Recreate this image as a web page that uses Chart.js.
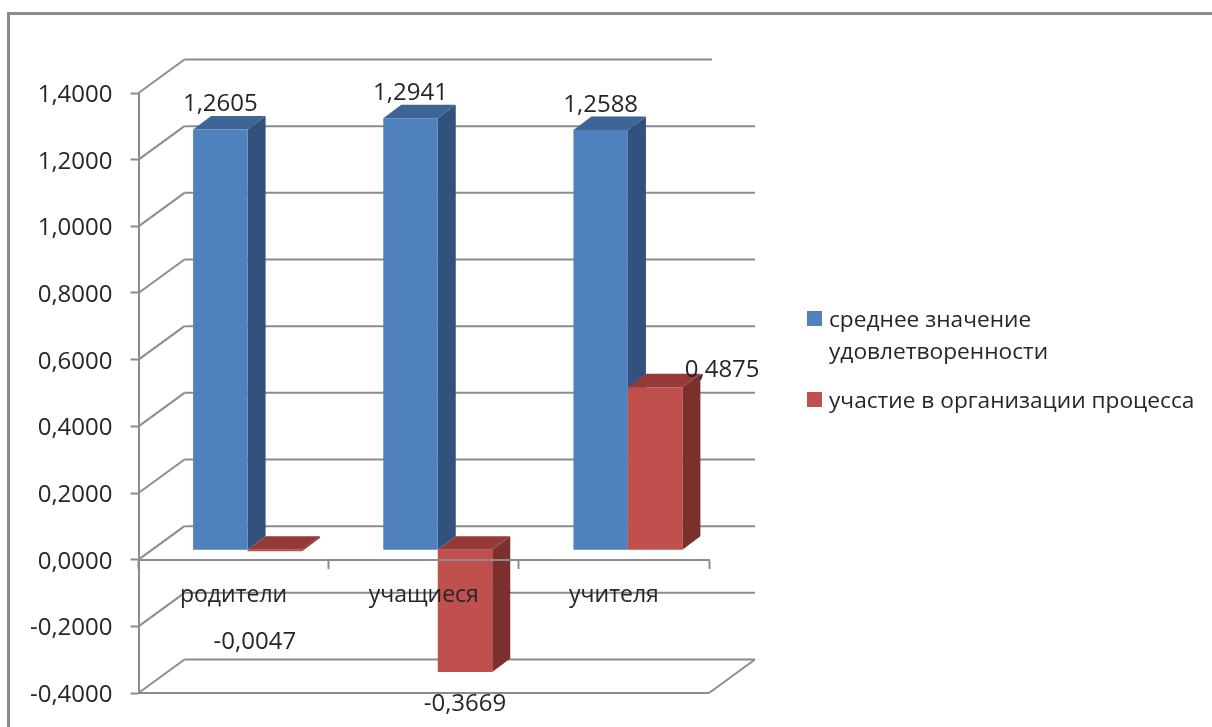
<!DOCTYPE html>
<html lang="ru">
<head>
<meta charset="utf-8">
<title>Удовлетворенность</title>
<script src="https://cdn.jsdelivr.net/npm/chart.js@4"></script>
<style>
  html, body { margin: 0; padding: 0; background: #fff; overflow: hidden; width: 1212px; height: 727px; }
  #frame { position: absolute; left: 7px; top: 12px; width: 1300px; height: 800px; border: 3px solid #8c8c8c; box-sizing: border-box; }
  canvas { position: absolute; left: 0; top: 0; }
  #legend { position: absolute; left: 807px; top: 0; font: 22.7px "Open Sans", sans-serif; color: #262626; }
  .item { position: absolute; left: 0; white-space: nowrap; line-height: 32px; padding-left: 22px; }
  .item i { position: absolute; left: 0; top: 8px; width: 14.5px; height: 14.5px; }
</style>
</head>
<body>
<div id="frame"></div>
<canvas id="chart" width="1212" height="727"></canvas>
<div id="legend"></div>
<script>
// ── Данные ────────────────────────────────────────────────────────────────────
const categories = ['родители', 'учащиеся', 'учителя'];
const satisfaction = [1.2605, 1.2941, 1.2588];
const participation = [-0.0047, -0.3669, 0.4875];
const seriesNames = [['среднее значение', 'удовлетворенности'], ['участие в организации процесса']];

const fmt = v => (Math.abs(v) < 1e-9 ? 0 : v).toFixed(4).replace('.', ',');
const FONT = '"Open Sans", sans-serif';
const TEXT = '#262626';
const GRID = '#8c8c8c';

// глубина "3D": стены и столбики
const WALL = { dx: 46, dy: -33.5 };
const BAR_SHIFT = { dx: 14, dy: -10 };
const BAR_DEPTH = { dx: 18, dy: -13.5 };
const FACES = [
  { side: '#31527c', cap: '#3d6595' },
  { side: '#7b302e', cap: '#953a38' },
];
// ручные сдвиги подписей, как на исходной диаграмме: [серия][категория]
const LABEL_POS = [
  [{ dx: 0, dy: -25 }, { dx: 0, dy: -25 }, { dx: 0, dy: -25 }],
  [{ dx: -20, dy: 91 }, { dx: 0, dy: 32 }, { dx: 67, dy: -17 }],
];

function poly(ctx, pts, color) {
  ctx.fillStyle = color;
  ctx.beginPath();
  pts.forEach((p, i) => (i ? ctx.lineTo(p[0], p[1]) : ctx.moveTo(p[0], p[1])));
  ctx.closePath();
  ctx.fill();
}

function line(ctx, x1, y1, x2, y2) {
  ctx.beginPath();
  ctx.moveTo(x1, y1);
  ctx.lineTo(x2, y2);
  ctx.stroke();
}

const box3d = {
  id: 'box3d',
  // задняя стена и диагонали по делениям оси
  beforeDatasetsDraw(chart) {
    const { ctx, chartArea: a, scales: { y } } = chart;
    ctx.save();
    ctx.strokeStyle = GRID;
    ctx.lineWidth = 2;
    y.ticks.forEach(t => {
      const py = y.getPixelForValue(t.value);
      const right = t.value === y.max ? a.right + 3 : a.right + WALL.dx;
      line(ctx, a.left, py, a.left + WALL.dx, py + WALL.dy);
      line(ctx, a.left + WALL.dx, py + WALL.dy, right, py + WALL.dy);
    });
    const bottom = y.getPixelForValue(y.min);
    line(ctx, a.left, bottom, a.right, bottom);
    line(ctx, a.right, bottom, a.right + WALL.dx, bottom + WALL.dy);

    // столбики: сначала по категориям, синий под красным
    ctx.translate(BAR_SHIFT.dx, BAR_SHIFT.dy);
    categories.forEach((c, i) => {
      [0, 1].forEach(s => {
        const bar = chart.getDatasetMeta(s).data[i];
        const top = Math.min(bar.y, bar.base);
        const bot = Math.max(bar.y, bar.base);
        const l = bar.x - bar.width / 2;
        const r = bar.x + bar.width / 2;
        const { dx, dy } = BAR_DEPTH;
        poly(ctx, [[r, top], [r + dx, top + dy], [r + dx, bot + dy], [r, bot]], FACES[s].side);
        poly(ctx, [[l, top], [r, top], [r + dx, top + dy], [l + dx, top + dy]], FACES[s].cap);
        bar.draw(ctx);
      });
    });
    ctx.restore();
    return false;
  },
  // beforeDatasetsDraw вернул false, поэтому подписи рисуем здесь
  afterDraw(chart) {
    const { ctx } = chart;
    ctx.save();
    ctx.font = '24px ' + FONT;
    ctx.fillStyle = TEXT;
    ctx.textAlign = 'center';
    ctx.textBaseline = 'middle';
    [satisfaction, participation].forEach((values, s) => {
      chart.getDatasetMeta(s).data.forEach((bar, i) => {
        const p = LABEL_POS[s][i];
        const edge = values[i] < 0 ? Math.max(bar.y, bar.base) : Math.min(bar.y, bar.base);
        ctx.fillText(fmt(values[i]), bar.x + BAR_SHIFT.dx + p.dx, edge + BAR_SHIFT.dy + p.dy);
      });
    });
    ctx.restore();
  },
};

// ── График ────────────────────────────────────────────────────────────────────
const chart = new Chart(document.getElementById('chart'), {
  type: 'bar',
  data: {
    labels: categories,
    datasets: [
      { label: seriesNames[0].join(' '), data: satisfaction, backgroundColor: '#4f81bd' },
      { label: seriesNames[1].join(' '), data: participation, backgroundColor: '#c0504d' },
    ],
  },
  options: {
    responsive: false,
    animation: false,
    layout: { padding: { left: 0, top: 93, right: 503, bottom: 34 } },
    datasets: { bar: { barPercentage: 1, categoryPercentage: 0.573 } },
    plugins: { legend: { display: false }, tooltip: { enabled: false } },
    scales: {
      x: {
        position: { y: 0 },
        grid: { drawOnChartArea: false, tickLength: 8, tickColor: GRID, tickWidth: 2 },
        border: { color: GRID, width: 2, z: 1 },
        ticks: { z: 1, color: TEXT, font: { family: FONT, size: 23 }, padding: 14, maxRotation: 0 },
      },
      y: {
        min: -0.4,
        max: 1.4,
        afterFit: s => { s.width = 138.5; },
        grid: { drawOnChartArea: false, tickLength: 8, tickColor: GRID, tickWidth: 2 },
        border: { color: GRID, width: 2 },
        ticks: {
          stepSize: 0.2,
          color: TEXT,
          font: { family: FONT, size: 24 },
          padding: 18,
          labelOffset: 2,
          callback: v => fmt(v),
        },
      },
    },
  },
  plugins: [box3d],
});

// ── Легенда ───────────────────────────────────────────────────────────────────
const legendEl = document.getElementById('legend');
const legendTop = [303, 384];
chart.data.datasets.forEach((d, i) => {
  const div = document.createElement('div');
  div.className = 'item';
  div.style.top = legendTop[i] + 'px';
  div.innerHTML = `<i style="background:${d.backgroundColor}"></i>${seriesNames[i].join('<br>')}`;
  legendEl.appendChild(div);
});
</script>
</body>
</html>
